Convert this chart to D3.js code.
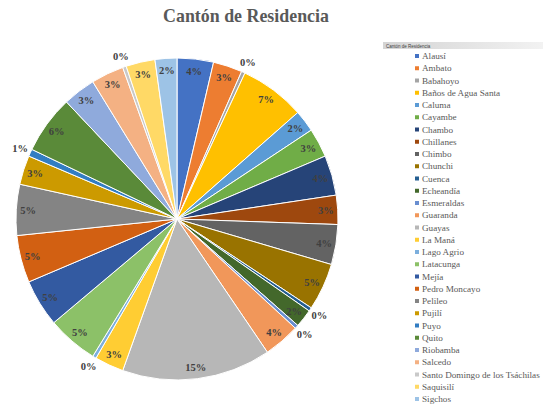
<!DOCTYPE html>
<html>
<head>
<meta charset="utf-8">
<script src="https://cdn.jsdelivr.net/npm/d3@7"></script>
<style>
  body { margin: 0; background: #fff; }
  svg { display: block; }
  .serif { font-family: "Liberation Serif", "Times New Roman", "DejaVu Serif", serif; }
</style>
</head>
<body>
<svg width="544" height="406"></svg>
<script>
var cantones = [
    "Alausí", "Ambato", "Babahoyo", "Baños de Agua Santa", "Caluma", "Cayambe",
    "Chambo", "Chillanes", "Chimbo", "Chunchi", "Cuenca", "Echeandía",
    "Esmeraldas", "Guaranda", "Guayas", "La Maná", "Lago Agrio", "Latacunga",
    "Mejía", "Pedro Moncayo", "Pelileo", "Pujilí", "Puyo", "Quito",
    "Riobamba", "Salcedo", "Santo Domingo de los Tsáchilas", "Saquisilí", "Sigchos"
];

// personas por cantón
var personas = [
    10, 8, 1, 18, 6, 8,
    11, 8, 11, 13, 1, 5,
    1, 10, 41, 8, 1, 14,
    13, 13, 14, 8, 2, 16,
    9, 9, 1, 8, 6
];

var colors = [
    "#4472C4", "#ED7D31", "#A5A5A5", "#FFC000", "#5B9BD5", "#70AD47",
    "#264478", "#9E480E", "#636363", "#997300", "#255E91", "#43682B",
    "#698ED0", "#F1975A", "#B7B7B7", "#FFCD33", "#7CAFDD", "#8CC168",
    "#335AA1", "#D26012", "#848484", "#CC9A00", "#327DC2", "#5A8A39",
    "#8FAADC", "#F4B183", "#C9C9C9", "#FFD966", "#9DC3E6"
];

var titulo = "Cantón de Residencia";

var svg = d3.select("svg"),
    cx = 177, cy = 219, radius = 161;

var total = d3.sum(personas);

var data = cantones.map(function (c, i) {
    return { name: c, value: personas[i], color: colors[i] };
});

// ajusta el tamaño de letra a un ancho dado
function fitWidth(sel, w) {
    var size = parseFloat(sel.style("font-size"));
    var len = sel.node().getComputedTextLength();
    if (len > 0) sel.style("font-size", (size * w / len) + "px");
}

var title = svg.append("text")
    .attr("class", "serif")
    .attr("x", 246)
    .attr("y", 22)
    .attr("text-anchor", "middle")
    .style("font-weight", "bold")
    .style("font-size", "18px")
    .style("fill", "#595959")
    .text(titulo);
fitWidth(title, 166);

var pie = d3.pie().sort(null).value(function (d) { return d.value; });
var arc = d3.arc().innerRadius(0).outerRadius(radius);
var arcs = pie(data);

var g = svg.append("g").attr("transform", "translate(" + cx + "," + cy + ")");

g.selectAll("path.slice")
    .data(arcs)
    .enter()
    .append("path")
    .attr("class", "slice")
    .attr("d", arc)
    .attr("fill", function (d) { return d.data.color; })
    .attr("stroke", "#fff")
    .attr("stroke-width", 1);

var inner = d3.arc().innerRadius(radius - 12).outerRadius(radius - 12),
    outer = d3.arc().innerRadius(radius + 11).outerRadius(radius + 11);

var lbl = g.selectAll("text.lbl")
    .data(arcs)
    .enter()
    .append("text")
    .attr("class", "lbl serif")
    .attr("transform", function (d) {
        var pct = d.data.value / total * 100;
        var p = pct < 1.5 ? outer.centroid(d) : inner.centroid(d);
        return "translate(" + p + ")";
    })
    .attr("text-anchor", "middle")
    .attr("dy", "0.35em")
    .style("font-weight", "bold")
    .style("font-size", "11px")
    .style("fill", "#404040")
    .text(function (d) {
        return Math.round(d.data.value / total * 100) + "%";
    });
// "15%" mide unos 21px en la imagen
var big = lbl.filter(function (d) { return d.data.name === "Guayas"; });
var bigLen = big.node().getComputedTextLength();
lbl.style("font-size", (11 * 21 / bigLen) + "px");

// leyenda
var defs = svg.append("defs");
var grad = defs.append("linearGradient")
    .attr("id", "hdr")
    .attr("x1", 0).attr("x2", 1).attr("y1", 0).attr("y2", 0);
grad.append("stop").attr("offset", "0%").attr("stop-color", "#d4d4d4");
grad.append("stop").attr("offset", "100%").attr("stop-color", "#f2f2f2");

var leg = svg.append("g").attr("transform", "translate(383,42)");

leg.append("rect")
    .attr("width", 160)
    .attr("height", 7)
    .attr("fill", "url(#hdr)");

leg.append("text")
    .attr("x", 3)
    .attr("y", 5.5)
    .style("font-family", "'Liberation Sans', sans-serif")
    .style("font-size", "4.5px")
    .style("fill", "#404040")
    .text(titulo);

var y = d3.scalePoint().domain(cantones).range([14, 357]);

var item = leg.selectAll("g.item")
    .data(data)
    .enter()
    .append("g")
    .attr("class", "item")
    .attr("transform", function (d) { return "translate(0," + y(d.name) + ")"; });

item.append("rect")
    .attr("x", 32)
    .attr("y", -2)
    .attr("width", 4)
    .attr("height", 4)
    .attr("fill", function (d) { return d.color; });

var names = item.append("text")
    .attr("class", "serif")
    .attr("x", 39)
    .attr("dy", "0.35em")
    .style("font-size", "10px")
    .style("fill", "#595959")
    .text(function (d) { return d.name; });

var longest = names.filter(function (d) { return d.name.indexOf("Santo") === 0; });
var longLen = longest.node().getComputedTextLength();
names.style("font-size", (10 * 118 / longLen) + "px");
</script>
</body>
</html>
